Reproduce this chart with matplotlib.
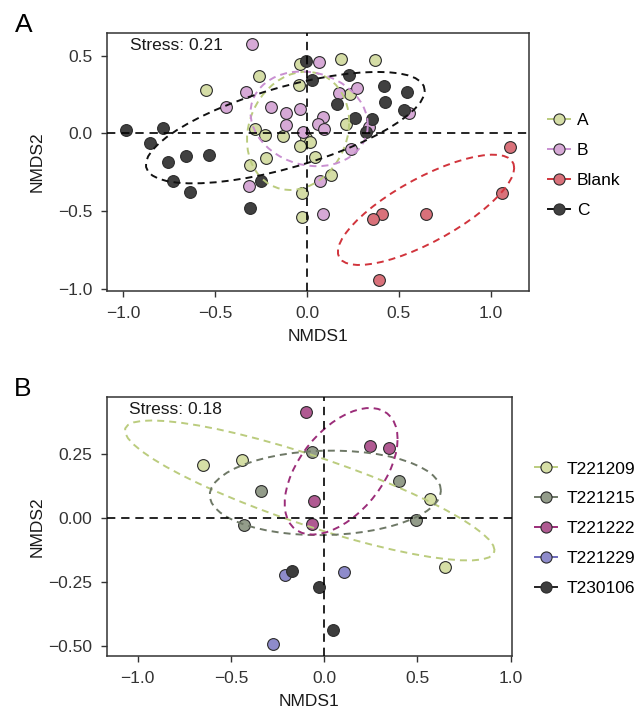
#!/usr/bin/env python3
import numpy as np
import matplotlib
matplotlib.use("Agg")
import matplotlib.pyplot as plt
from matplotlib.lines import Line2D

plt.rcParams['font.family'] = ['Liberation Sans', 'DejaVu Sans']

# Panel A scores, one pair of lists per group
a_x = [-0.55, -0.261, -0.283, -0.23, -0.131, -0.310, -0.221, -0.04, -0.042, -0.005,
       0.016, -0.04, 0.044, 0.132, -0.025, -0.025, 0.183, 0.234, 0.214, 0.372]
a_y = [0.279, 0.369, 0.028, -0.013, -0.015, -0.202, -0.161, 0.446, 0.311, -0.032,
       -0.054, -0.082, -0.155, -0.268, -0.382, -0.539, 0.476, 0.255, 0.06, 0.47]
b_x = [-0.301, -0.334, -0.441, -0.198, -0.116, -0.113, -0.038, 0.064, 0.085, 0.058,
       0.094, -0.022, -0.316, 0.069, 0.087, 0.176, 0.238, 0.27, 0.339, 0.554]
b_y = [0.575, 0.264, 0.172, 0.170, 0.129, 0.052, 0.155, 0.461, 0.107, 0.058,
       0.028, 0.011, -0.337, -0.305, -0.519, 0.262, -0.101, 0.29, 0.039, 0.129]
blank_x = [1.107, 1.063, 0.646, 0.408, 0.358, 0.392]
blank_y = [-0.086, -0.386, -0.517, -0.521, -0.549, -0.944]
c_x = [-0.987, -0.782, -0.857, -0.755, -0.657, -0.535, -0.728, -0.637, -0.309, -0.249,
       -0.004, 0.029, 0.163, 0.26, 0.227, 0.421, 0.546, 0.423, 0.528, 0.356, 0.323]
c_y = [0.021, 0.032, -0.064, -0.182, -0.144, -0.139, -0.307, -0.376, -0.479, -0.309,
       0.464, 0.343, 0.191, 0.101, 0.376, 0.303, 0.264, 0.202, 0.150, 0.092, 0.006]

# Panel B scores
t1209_x = [-0.649, -0.442, 0.565, 0.649]
t1209_y = [0.209, 0.227, 0.074, -0.189]
t1215_x = [-0.064, -0.337, -0.43, 0.402, 0.49]
t1215_y = [0.258, 0.108, -0.026, 0.145, -0.007]
t1222_x = [-0.098, 0.245, 0.349, -0.053, -0.066]
t1222_y = [0.415, 0.283, 0.277, 0.067, -0.022]
t1229_x = [-0.209, -0.276, 0.104]
t1229_y = [-0.223, -0.493, -0.209]
t0106_x = [-0.173, -0.03, 0.045]
t0106_y = [-0.208, -0.269, -0.437]

groups_a = [("A", a_x, a_y, "#D5DDA6", "#BACB7D"),
            ("B", b_x, b_y, "#D6A9D6", "#C98FD1"),
            ("Blank", blank_x, blank_y, "#D9717A", "#D1343C"),
            ("C", c_x, c_y, "#404040", "#111111")]
groups_b = [("T221209", t1209_x, t1209_y, "#D6DFA6", "#BBCC7E"),
            ("T221215", t1215_x, t1215_y, "#939C8A", "#6E7866"),
            ("T221222", t1222_x, t1222_y, "#B05A92", "#9B2D79"),
            ("T221229", t1229_x, t1229_y, "#8E8BCB", "#6B68BA"),
            ("T230106", t0106_x, t0106_y, "#3D3D3D", "#222222")]

LEVEL = 0.65


def cov_trob(xy, nu=5, maxit=25, tol=0.01):
    # port of MASS::cov.trob
    n, p = xy.shape
    loc = xy.mean(axis=0)
    w = np.ones(n)
    for _ in range(maxit):
        w0 = w
        X = xy - loc
        sw = np.sqrt(w / w.sum())
        _, d, vt = np.linalg.svd(sw[:, None] * X, full_matrices=False)
        wX = X @ vt.T / d
        Q = (wX ** 2).sum(axis=1)
        w = (nu + p) / (nu + Q)
        loc = (w[:, None] * xy).sum(axis=0) / w.sum()
        if np.all(np.abs(w - w0) < tol):
            break
    sX = np.sqrt(w)[:, None] * X
    return loc, sX.T @ sX / n


def ellipse(x, y, level=LEVEL, segments=51):
    xy = np.column_stack([x, y])
    n = len(xy)
    center, shape = cov_trob(xy)
    dfd = n - 1
    fq = dfd / 2 * ((1 - level) ** (-2 / dfd) - 1)
    radius = np.sqrt(2 * fq)
    chol = np.linalg.cholesky(shape).T
    ang = np.linspace(0, 2 * np.pi, segments + 1)
    circ = np.column_stack([np.cos(ang), np.sin(ang)])
    e = center + radius * circ @ chol
    return e[:, 0], e[:, 1]


def panel(ax, groups, stress, xlim, ylim, yticks):
    for name, x, y, fill, line in groups:
        ax.scatter(x, y, s=72, c=fill, edgecolors="#2b2b2b", linewidths=0.8, zorder=3)
    for name, x, y, fill, line in groups:
        if len(x) >= 4:
            ex, ey = ellipse(x, y)
            ax.plot(ex, ey, color=line, lw=1.4, ls=(0, (3.6, 2.6)), zorder=4)
    ax.axhline(0, color="black", lw=1.2, ls=(0, (5, 3.5)), zorder=5)
    ax.axvline(0, color="black", lw=1.2, ls=(0, (5, 3.5)), zorder=5)
    ax.set_xlim(xlim)
    ax.set_ylim(ylim)
    ax.set_xticks([-1.0, -0.5, 0.0, 0.5, 1.0])
    ax.set_yticks(yticks)
    ax.tick_params(direction="out", length=4.5, width=1, color="#333333",
                   labelsize=12.5, labelcolor="#333333", pad=6)
    for s in ax.spines.values():
        s.set_color("#333333")
        s.set_linewidth(1.1)
    ax.set_xlabel("NMDS1", fontsize=12.5, color="#1a1a1a")
    ax.set_ylabel("NMDS2", fontsize=12.5, color="#1a1a1a")
    ax.xaxis.label.set_va("center")
    ax.yaxis.label.set_va("center")
    ax.text(0.055, 0.95, f"Stress: {stress}", transform=ax.transAxes,
            fontsize=12.5, va="center", ha="left", color="#1a1a1a")
    handles = [Line2D([], [], color=line, lw=1.4, marker="o", markersize=8,
                      markerfacecolor=fill, markeredgecolor="#2b2b2b",
                      markeredgewidth=0.8) for _, _, _, fill, line in groups]
    labels = [g[0] for g in groups]
    return handles, labels


fig = plt.figure(figsize=(6.44, 7.13), dpi=100)
W, H = 644, 713

ax1 = fig.add_axes([107 / W, 1 - 291 / H, 422 / W, 258 / H])
h, l = panel(ax1, groups_a, "0.21", (-1.089, 1.208), (-1.015, 0.646), [-1.0, -0.5, 0.0, 0.5])
ax1.xaxis.set_label_coords(0.5, -(336 - 291) / 258)
ax1.yaxis.set_label_coords(-(107 - 37.5) / 422, 0.5)
fig.legend(h, l, loc="center left", bbox_to_anchor=(548 / W, 1 - 165.7 / H),
           frameon=False, fontsize=12.5, handlelength=1.27, handletextpad=0.4,
           labelspacing=0.85, borderpad=0, borderaxespad=0)

ax2 = fig.add_axes([107 / W, 1 - 656 / H, 405 / W, 259 / H])
h, l = panel(ax2, groups_b, "0.18", (-1.164, 1.007), (-0.539, 0.475),
             [-0.50, -0.25, 0.00, 0.25])
ax2.set_yticklabels(["−0.50", "−0.25", "0.00", "0.25"])
ax2.xaxis.set_label_coords(0.5, -(702 - 656) / 259)
ax2.yaxis.set_label_coords(-(107 - 37.5) / 405, 0.5)
fig.legend(h, l, loc="center left", bbox_to_anchor=(535 / W, 1 - 528.8 / H),
           frameon=False, fontsize=12.5, handlelength=1.27, handletextpad=0.55,
           labelspacing=0.85, borderpad=0, borderaxespad=0)

fig.text(15 / W, 1 - 32 / H, "A", fontsize=19, va="baseline", ha="left")
fig.text(14 / W, 1 - 396 / H, "B", fontsize=19, va="baseline", ha="left")

fig.savefig("out.png", dpi=100)
